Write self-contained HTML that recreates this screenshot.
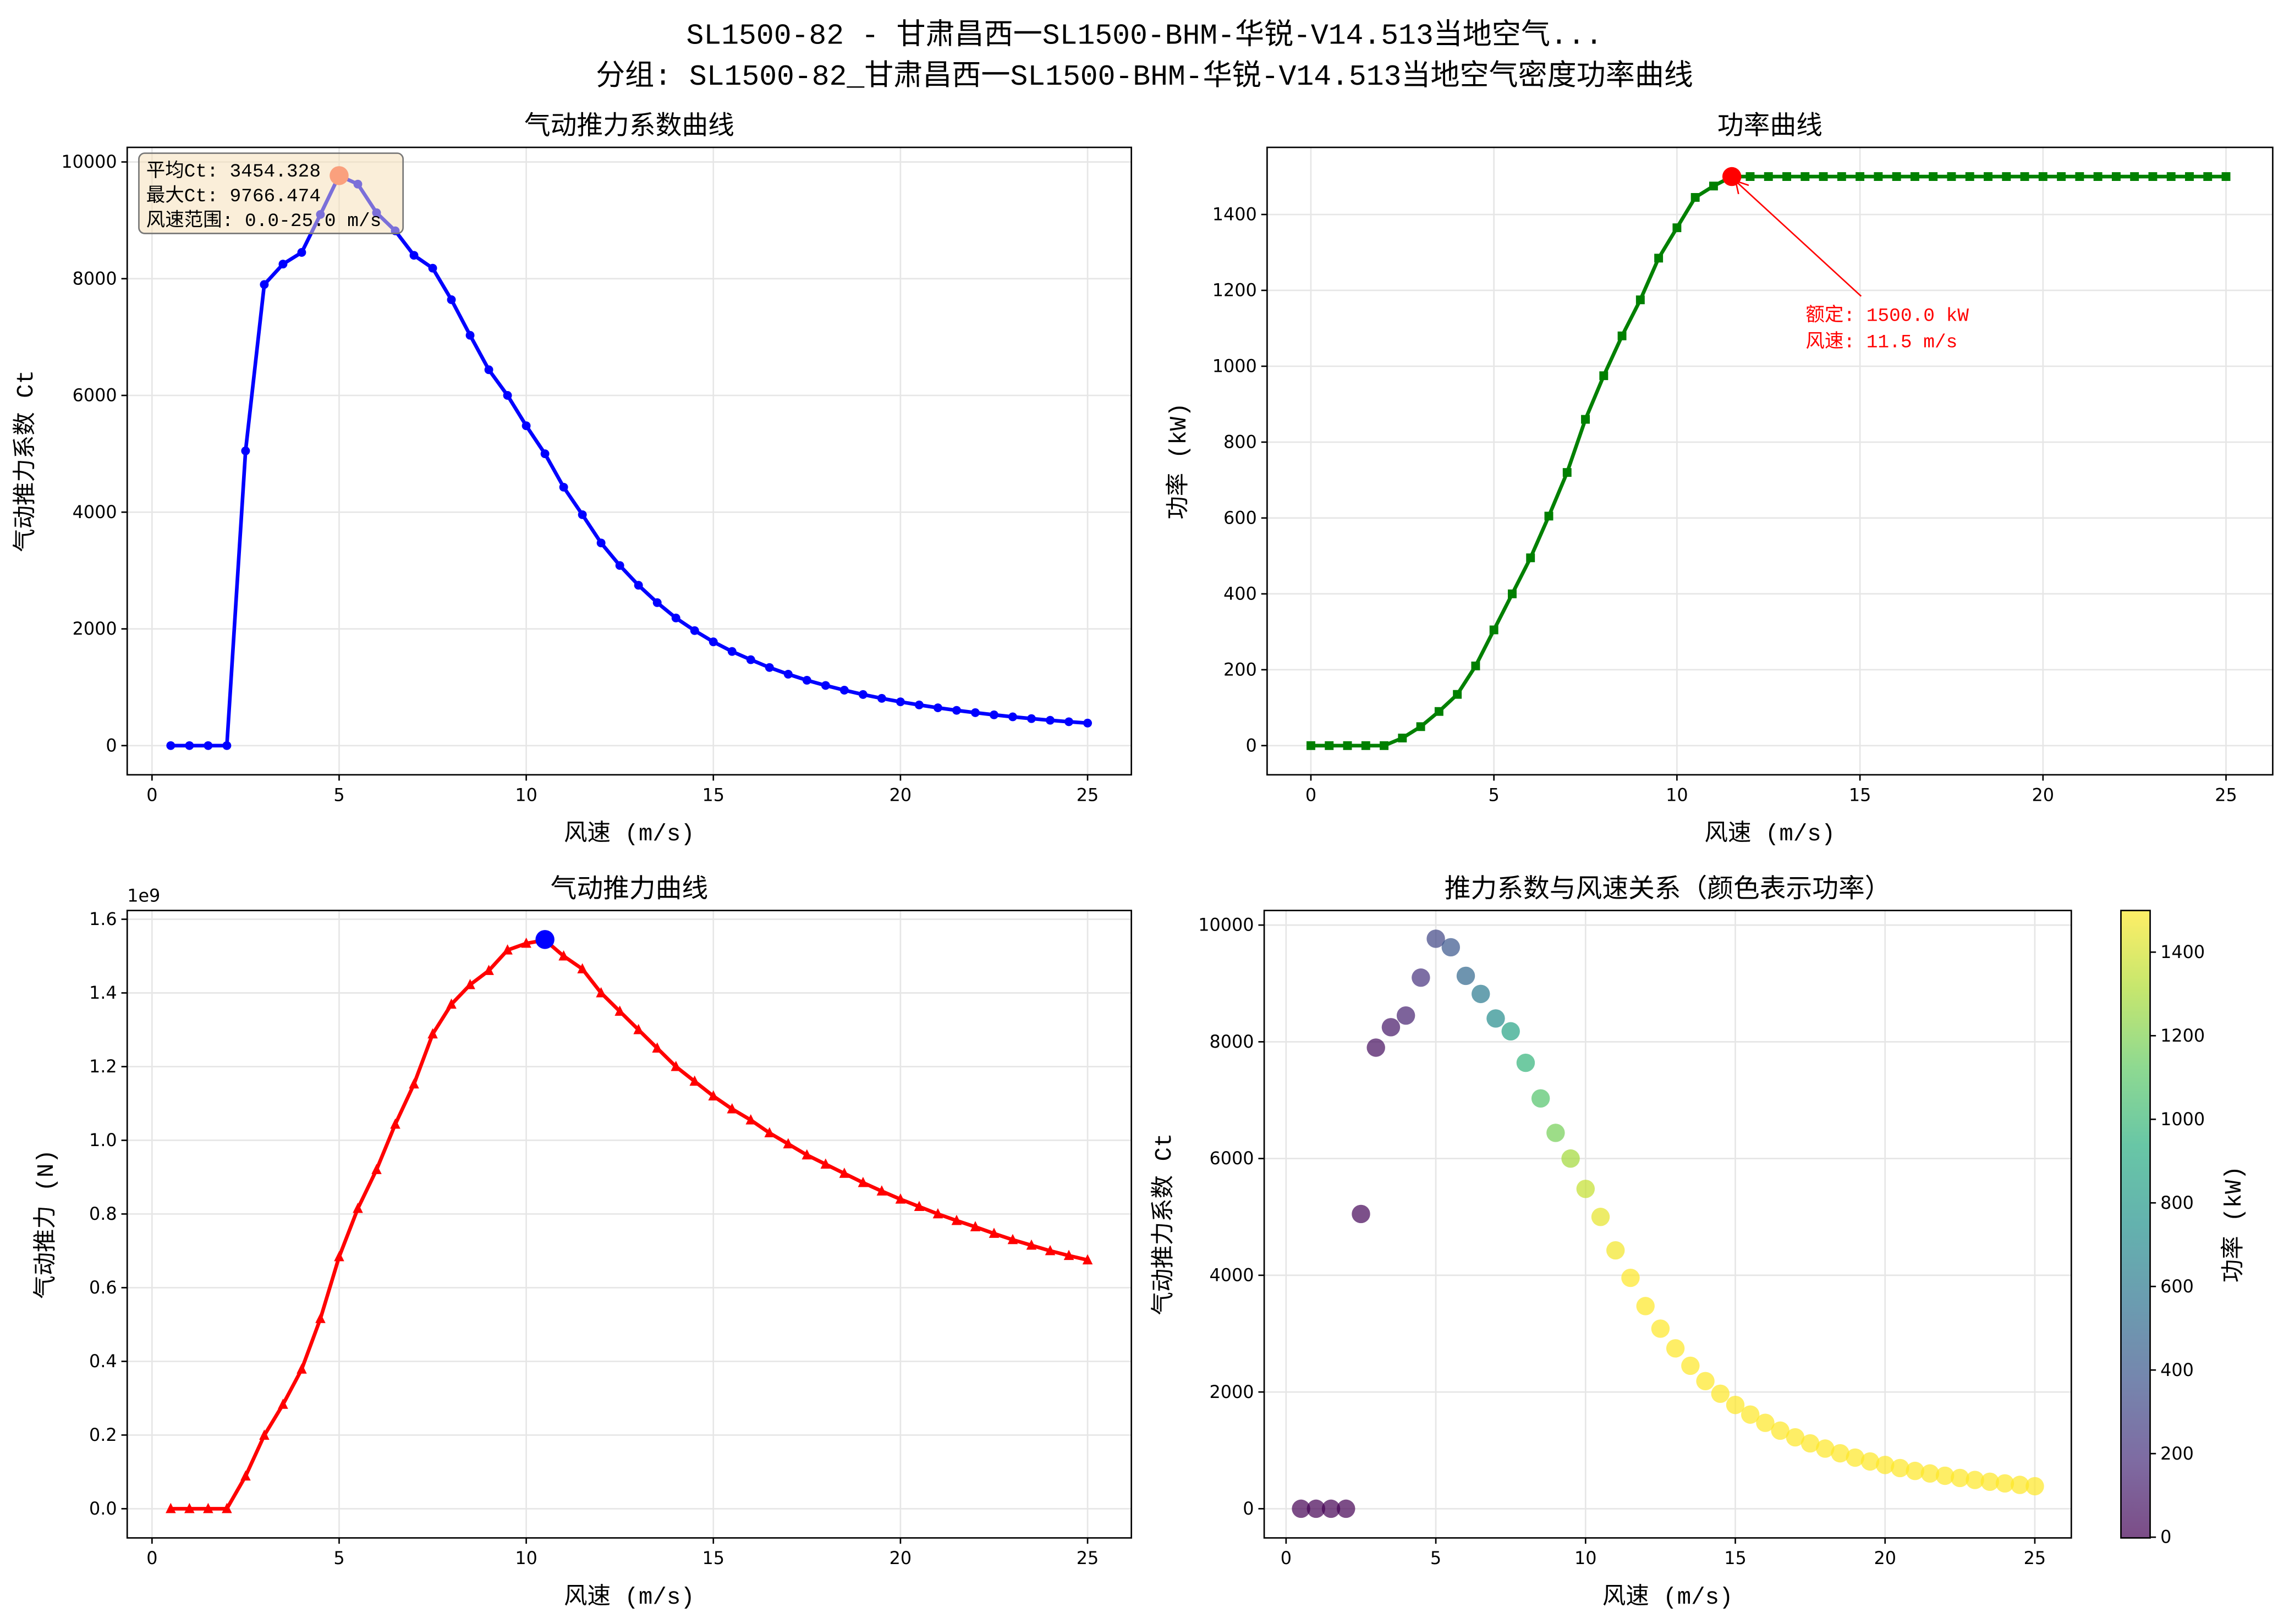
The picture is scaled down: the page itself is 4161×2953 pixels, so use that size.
<!DOCTYPE html>
<html><head><meta charset="utf-8">
<style>
html,body{margin:0;padding:0;background:#fff;}
svg{display:block;}
text{font-family:"DejaVu Sans","Noto Sans CJK SC",sans-serif;}
.cj{font-family:"Liberation Mono","Noto Sans CJK SC",monospace;}
</style></head>
<body>
<svg id="s" width="4161" height="2953" viewBox="0 0 1568 1113" xmlns="http://www.w3.org/2000/svg">
<rect width="1568" height="1113" fill="#fff"/>
<text class="cj" x="784" y="30" font-size="20" text-anchor="middle">SL1500-82 - 甘肃昌西一SL1500-BHM-华锐-V14.513当地空气...</text>
<text class="cj" x="784" y="58" font-size="20" text-anchor="middle">分组: SL1500-82_甘肃昌西一SL1500-BHM-华锐-V14.513当地空气密度功率曲线</text>
</svg>
<script>
const S=document.getElementById('s');const NS='http://www.w3.org/2000/svg';
function el(t,a,txt){const e=document.createElementNS(NS,t);for(const k in a)e.setAttribute(k,a[k]);if(txt!==undefined)e.textContent=txt;S.appendChild(e);return e;}
const ct={0.5:0,1:0,1.5:0,2:0,2.5:5050,3:7900,3.5:8250,4:8450,4.5:9100,5:9766,5.5:9620,6:9130,6.5:8820,7:8400,7.5:8180,8:7640,8.5:7030,9:6440,9.5:6000,10:5480,10.5:5000};
const thT={11:1.50,11.5:1.465,12:1.40,12.5:1.35,13:1.30,13.5:1.25,14:1.20,14.5:1.16,15:1.12,15.5:1.085,16:1.055,16.5:1.02,17:0.99,17.5:0.96,18:0.935,18.5:0.91,19:0.885,19.5:0.862,20:0.84,20.5:0.82,21:0.80,21.5:0.782,22:0.765,22.5:0.747,23:0.73,23.5:0.715,24:0.70,24.5:0.687,25:0.675};
for(const k in thT){ct[k]=thT[k]*1e9/(k*k*2800);}
const pw=[0,0,0,0,0,20,50,90,135,210,305,400,495,605,720,860,975,1080,1175,1285,1365,1445,1475,1500];
function P(v){const i=Math.round(v*2);return i<pw.length?pw[i]:1500;}
const vs=[];for(let i=1;i<=50;i++)vs.push(i/2);
function axes(x0,y0,x1,y1,fx,xt,fy,yt,ylabFmt,title,xl,yl,ylx){
 for(const t of xt){const X=fx(t);el('line',{x1:X,y1:y0,x2:X,y2:y1,stroke:'#e6e6e6','stroke-width':1});el('line',{x1:X,y1:y1,x2:X,y2:y1+4,stroke:'#000'});el('text',{x:X,y:y1+18,'font-size':12,'text-anchor':'middle'},t);}
 for(const t of yt){const Y=fy(t);el('line',{x1:x0,y1:Y,x2:x1,y2:Y,stroke:'#e6e6e6','stroke-width':1});el('line',{x1:x0-4,y1:Y,x2:x0,y2:Y,stroke:'#000'});el('text',{x:x0-7,y:Y+4,'font-size':12,'text-anchor':'end'},ylabFmt(t));}
 el('text',{class:'cj',x:(x0+x1)/2,y:y0-9,'font-size':18,'text-anchor':'middle'},title);
 el('text',{class:'cj',x:(x0+x1)/2,y:y1+45,'font-size':16,'text-anchor':'middle'},xl);
 el('text',{class:'cj',x:ylx,y:(y0+y1)/2,'font-size':16,'text-anchor':'middle',transform:`rotate(-90 ${ylx} ${(y0+y1)/2})`},yl);
}
function frame(x0,y0,x1,y1){el('rect',{x:x0,y:y0,width:x1-x0,height:y1-y0,fill:'none',stroke:'#000','stroke-width':1});}
{const fx=v=>104+v*25.64, fy=c=>511-c*0.04;
axes(87,101,775,531,fx,[0,5,10,15,20,25],fy,[0,2000,4000,6000,8000,10000],t=>t,'气动推力系数曲线','风速 (m/s)','气动推力系数 Ct',22);
el('polyline',{points:vs.map(v=>fx(v)+','+fy(ct[v])).join(' '),fill:'none',stroke:'#0000ff','stroke-width':2.5});
vs.forEach(v=>el('circle',{cx:fx(v),cy:fy(ct[v]),r:3,fill:'#0000ff'}));
el('circle',{cx:fx(5),cy:fy(9766),r:6.5,fill:'#ff6347'});
el('rect',{x:95,y:105,width:181,height:55,rx:4,fill:'#f5deb3','fill-opacity':0.5,stroke:'#777'});
['平均Ct: 3454.328','最大Ct: 9766.474','风速范围: 0.0-25.0 m/s'].forEach((t,i)=>el('text',{class:'cj',x:100,y:121+i*17,'font-size':13},t));
frame(87,101,775,531);}
{const fx=v=>898+v*25.08, fy=p=>511-p*0.26;
axes(868,101,1557,531,fx,[0,5,10,15,20,25],fy,[0,200,400,600,800,1000,1200,1400],t=>t,'功率曲线','风速 (m/s)','功率 (kW)',812);
const v2=[0,...vs];
el('polyline',{points:v2.map(v=>fx(v)+','+fy(P(v))).join(' '),fill:'none',stroke:'#008000','stroke-width':2.5});
v2.forEach(v=>el('rect',{x:fx(v)-3,y:fy(P(v))-3,width:6,height:6,fill:'#008000'}));
el('circle',{cx:fx(11.5),cy:fy(1500),r:6.5,fill:'#ff0000'});
el('line',{x1:1275,y1:203,x2:1190,y2:125,stroke:'#ff0000','stroke-width':1});
el('polyline',{points:'1191,133 1189,124 1198,127',fill:'none',stroke:'#ff0000','stroke-width':1});
el('text',{class:'cj',x:1237,y:220,'font-size':13,fill:'#ff0000'},'额定: 1500.0 kW');
el('text',{class:'cj',x:1237,y:238,'font-size':13,fill:'#ff0000'},'风速: 11.5 m/s');
frame(868,101,1557,531);}
{const fx=v=>104+v*25.64, fy=f=>1034-f*252.5;
axes(87,624,775,1054,fx,[0,5,10,15,20,25],fy,[0,0.2,0.4,0.6,0.8,1.0,1.2,1.4,1.6],t=>t.toFixed(1),'气动推力曲线','风速 (m/s)','气动推力 (N)',36);
el('text',{x:87,y:618,'font-size':12},'1e9');
const th=v=>ct[v]*v*v*2800/1e9;
el('polyline',{points:vs.map(v=>fx(v)+','+fy(th(v))).join(' '),fill:'none',stroke:'#ff0000','stroke-width':2.5});
vs.forEach(v=>{const X=fx(v),Y=fy(th(v));el('polygon',{points:`${X},${Y-4} ${X-3.5},${Y+3} ${X+3.5},${Y+3}`,fill:'#ff0000'});});
el('circle',{cx:fx(10.5),cy:fy(1.545),r:6.5,fill:'#0000ff'});
frame(87,624,775,1054);}
const vir=[[0,'#440154'],[0.125,'#472d7b'],[0.25,'#3b528b'],[0.375,'#2c728e'],[0.5,'#21918c'],[0.625,'#28ae80'],[0.75,'#5ec962'],[0.875,'#addc30'],[1,'#fde725']];
function hx(h){return [1,3,5].map(i=>parseInt(h.substr(i,2),16));}
function cm(t){for(let i=1;i<vir.length;i++){if(t<=vir[i][0]){const a=hx(vir[i-1][1]),b=hx(vir[i][1]),f=(t-vir[i-1][0])/(vir[i][0]-vir[i-1][0]);return 'rgb('+a.map((x,j)=>Math.round(x+(b[j]-x)*f)).join(',')+')';}}return vir[8][1];}
{const fx=v=>881+v*20.52, fy=c=>1034-c*0.04;
axes(866,624,1419,1054,fx,[0,5,10,15,20,25],fy,[0,2000,4000,6000,8000,10000],t=>t,'推力系数与风速关系（颜色表示功率）','风速 (m/s)','气动推力系数 Ct',802);
vs.forEach(v=>el('circle',{cx:fx(v),cy:fy(ct[v]),r:6.3,fill:cm(P(v)/1500),'fill-opacity':0.7}));
frame(866,624,1419,1054);
const g=el('linearGradient',{id:'vg',x1:0,y1:1,x2:0,y2:0});
vir.forEach(s=>{const st=document.createElementNS(NS,'stop');st.setAttribute('offset',s[0]);st.setAttribute('stop-color',s[1]);g.appendChild(st);});
const d=el('defs',{});d.appendChild(g);
el('rect',{x:1453,y:624,width:20,height:430,fill:'url(#vg)','fill-opacity':0.7,stroke:'#000','stroke-width':1});
const cy=p=>1053.5-p*0.2864;
[0,200,400,600,800,1000,1200,1400].forEach(p=>{el('line',{x1:1473,y1:cy(p),x2:1477,y2:cy(p),stroke:'#000'});el('text',{x:1480,y:cy(p)+4,'font-size':12},p);});
el('text',{class:'cj',x:1535,y:839,'font-size':16,'text-anchor':'middle',transform:'rotate(-90 1535 839)'},'功率 (kW)');}
</script>
</body></html>
